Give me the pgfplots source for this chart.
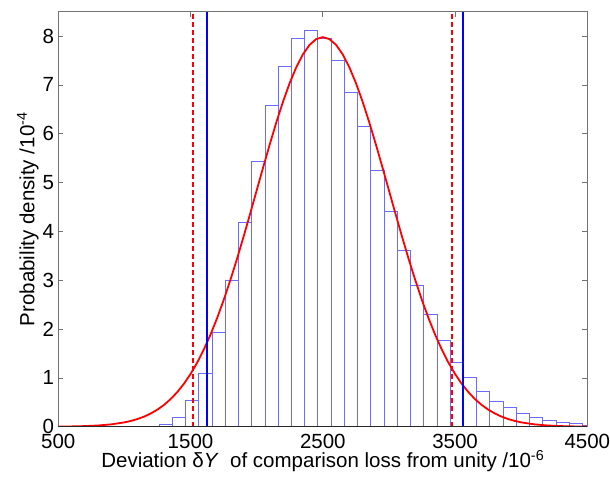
\documentclass[border=0pt]{standalone}
\usepackage{fontspec}
\setmainfont{Liberation Sans}
\usepackage{pgfplots}
\pgfplotsset{compat=1.18}
\definecolor{histblue}{rgb}{0.42,0.42,1}
\definecolor{framegray}{rgb}{0.45,0.45,0.45}
\begin{document}
\begin{tikzpicture}
\begin{axis}[
  at={(0,0)}, anchor=south west,
  scale only axis, width=529pt, height=415pt,
  xmin=500, xmax=4500, ymin=0, ymax=8.5,
  xtick={500,1500,2500,3500,4500},
  ytick={0,1,2,3,4,5,6,7,8},
  tick align=inside, major tick length=5pt,
  axis line style={framegray, line width=0.7pt},
  tick style={framegray, line width=0.7pt},
  /pgf/number format/assume math mode=true,
  /pgf/number format/set thousands separator={},
  ticklabel style={font=\fontsize{20.5}{24}\selectfont},
  xticklabel style={inner sep=1pt, yshift=-6.6pt},
  yticklabel style={inner sep=1pt, xshift=-3pt},
  xlabel={Deviation δ\textit{Y}\ \ of comparison loss from unity /10\textsuperscript{-6}},
  ylabel={Probability density /10\textsuperscript{-4}},
  label style={font=\fontsize{20.5}{24}\selectfont},
  xlabel style={at={([yshift=-41pt]axis description cs:0.5,0)}, anchor=base},
  ylabel style={at={([xshift=-24pt]axis description cs:0,0.5)}, anchor=base, rotate=0},
  clip=true,
]
\addplot[ybar interval, fill=white, draw=histblue, line width=0.6pt] coordinates {
(1262,0.05) (1362,0.20) (1462,0.55) (1562,1.10) (1662,1.93) (1762,3.00)
(1862,4.19) (1962,5.44) (2062,6.59) (2162,7.38) (2262,7.96) (2362,8.12)
(2462,7.96) (2562,7.50) (2662,6.85) (2762,6.15) (2862,5.26) (2962,4.42)
(3062,3.62) (3162,2.90) (3262,2.30) (3362,1.76) (3462,1.31) (3562,1.02)
(3662,0.73) (3762,0.53) (3862,0.40) (3962,0.27) (4062,0.19) (4162,0.14)
(4262,0.10) (4362,0.06) (4462,0.03) (4562,0.03)
};
\addplot[red, line width=1.8pt] coordinates {
(500,0.0027) (600,0.0058) (700,0.0122) (800,0.0247) (900,0.0477) (1000,0.0886)
(1050,0.119) (1100,0.158) (1150,0.208) (1200,0.272) (1250,0.351) (1300,0.448)
(1350,0.567) (1400,0.710) (1450,0.880) (1500,1.080) (1550,1.312) (1600,1.579)
(1650,1.881) (1700,2.218) (1750,2.590) (1800,2.995) (1850,3.427) (1900,3.884)
(1950,4.357) (2000,4.840) (2050,5.322) (2100,5.794) (2150,6.245) (2200,6.665)
(2250,7.041) (2300,7.366) (2350,7.628) (2400,7.821) (2450,7.939) (2500,7.979)
(2550,7.939) (2600,7.821) (2650,7.628) (2700,7.366) (2750,7.041) (2800,6.665)
(2850,6.245) (2900,5.794) (2950,5.322) (3000,4.840) (3050,4.357) (3100,3.884)
(3150,3.427) (3200,2.995) (3250,2.590) (3300,2.218) (3350,1.881) (3400,1.579)
(3450,1.312) (3500,1.080) (3550,0.880) (3600,0.710) (3650,0.567) (3700,0.448)
(3750,0.351) (3800,0.272) (3850,0.208) (3900,0.158) (3950,0.119) (4000,0.0886)
(4100,0.0477) (4200,0.0247) (4300,0.0122) (4400,0.0058) (4500,0.0027)
};
\addplot[red, line width=1.6pt, dash pattern=on 5pt off 3pt] coordinates {(1520,0) (1520,8.5)};
\addplot[red, line width=1.6pt, dash pattern=on 5pt off 3pt] coordinates {(3478,0) (3478,8.5)};
\addplot[blue, line width=2pt] coordinates {(1628,0) (1628,8.5)};
\addplot[blue, line width=2pt] coordinates {(3558,0) (3558,8.5)};
\addplot[black!85, line width=1.5pt] coordinates {(500,0) (4500,0)};
\end{axis}
\pgfresetboundingbox
\useasboundingbox (-58.3pt,-59.3pt) rectangle (551.7pt,426.7pt);
\end{tikzpicture}
\end{document}
